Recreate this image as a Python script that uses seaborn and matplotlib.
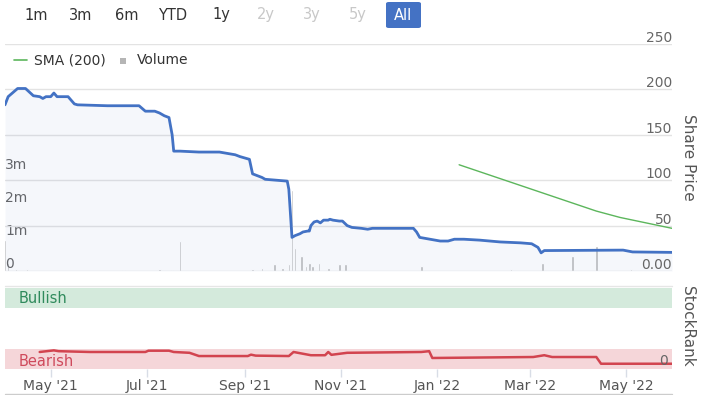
import matplotlib
matplotlib.use("Agg")
import matplotlib.pyplot as plt
import matplotlib.dates as mdates
import matplotlib.transforms as mtransforms
from matplotlib.patches import FancyBboxPatch
from matplotlib.lines import Line2D
import seaborn as sns
import pandas as pd

# ---------------- data ----------------
price_dates = ["2021-04-02", "2021-04-04", "2021-04-06", "2021-04-10", "2021-04-15", "2021-04-20",
               "2021-04-24", "2021-04-26", "2021-04-28", "2021-05-01", "2021-05-03", "2021-05-05",
               "2021-05-12", "2021-05-16", "2021-05-18", "2021-06-06", "2021-06-26", "2021-06-30",
               "2021-07-06", "2021-07-09", "2021-07-12", "2021-07-15", "2021-07-17", "2021-07-18",
               "2021-07-22", "2021-08-03", "2021-08-16", "2021-08-26", "2021-08-29", "2021-09-04",
               "2021-09-06", "2021-09-12", "2021-09-14", "2021-09-28", "2021-09-29", "2021-10-01",
               "2021-10-03", "2021-10-06", "2021-10-08", "2021-10-11", "2021-10-12", "2021-10-13",
               "2021-10-15", "2021-10-17", "2021-10-19", "2021-10-21", "2021-10-24", "2021-10-25",
               "2021-10-27", "2021-10-31", "2021-11-02", "2021-11-05", "2021-11-08", "2021-11-14",
               "2021-11-18", "2021-11-21", "2021-12-17", "2021-12-19", "2021-12-21", "2022-01-03",
               "2022-01-08", "2022-01-12", "2022-01-18", "2022-01-28", "2022-02-10", "2022-02-23",
               "2022-03-02", "2022-03-06", "2022-03-08", "2022-03-10", "2022-04-29", "2022-05-05",
               "2022-05-30"]
price_values = [183, 192, 195, 201, 201, 193,
                192, 190, 192, 192, 196, 192,
                192, 184, 183, 182, 182, 176,
                176, 174, 171, 169, 150, 132,
                132, 131, 131, 128, 126, 123,
                107, 103, 101, 99, 90, 37,
                39, 41, 43, 44, 44, 50,
                54, 55, 53, 56, 56, 57,
                56, 55, 55, 50, 48, 47,
                46, 47, 47, 43, 37, 33,
                33, 35, 35, 34, 32, 31,
                30, 26, 20, 22.5, 23, 21,
                20.5]

sma_dates = ["2022-01-15", "2022-04-12", "2022-04-27", "2022-05-30"]
sma_values = [117, 66, 59, 47]

volume_dates = ["2021-04-02", "2021-04-04", "2021-04-09", "2021-04-16", "2021-06-16", "2021-07-09",
                "2021-07-17", "2021-07-22", "2021-09-06", "2021-09-12", "2021-09-20", "2021-09-25",
                "2021-09-29", "2021-10-01", "2021-10-03", "2021-10-07", "2021-10-10", "2021-10-12",
                "2021-10-14", "2021-10-18", "2021-10-24", "2021-10-31", "2021-11-04", "2021-12-22",
                "2022-02-17", "2022-03-09", "2022-03-28", "2022-04-12", "2022-05-04"]
volume_values = [0.95, 0.25, 0.05, 0.05, 0.04, 0.05,
                 0.04, 0.9, 0.06, 0.1, 0.2, 0.08,
                 0.2, 2.45, 0.7, 0.45, 0.15, 0.25,
                 0.15, 0.25, 0.08, 0.2, 0.2, 0.15,
                 0.05, 0.25, 0.45, 0.75, 0.05]

rank_dates = ["2021-04-24", "2021-05-03", "2021-05-06", "2021-05-26", "2021-06-30", "2021-07-02",
              "2021-07-15", "2021-07-18", "2021-07-28", "2021-08-03", "2021-09-03", "2021-09-05",
              "2021-09-08", "2021-09-29", "2021-10-02", "2021-10-13", "2021-10-22", "2021-10-24",
              "2021-10-26", "2021-11-05", "2021-12-22", "2021-12-27", "2021-12-29", "2022-03-03",
              "2022-03-10", "2022-03-15", "2022-04-12", "2022-04-15", "2022-05-30"]
rank_values = [21, 23, 22, 21, 21, 22.6,
               22.6, 21, 20, 16, 16, 17.7,
               16.5, 16, 21, 17, 17, 21,
               17.5, 20, 21, 22, 13.6, 14.8,
               17, 14.8, 14.8, 6.5, 6.5]

x_tick_dates = ["2021-05-01", "2021-07-01", "2021-09-01", "2021-11-01", "2022-01-01", "2022-03-01", "2022-05-01"]
x_tick_labels = ["May '21", "Jul '21", "Sep '21", "Nov '21", "Jan '22", "Mar '22", "May '22"]
price_ticks = [0, 50, 100, 150, 200, 250]
price_tick_labels = ["0.00", "50", "100", "150", "200", "250"]
volume_ticks = [0, 1, 2, 3]
volume_tick_labels = ["0", "1m", "2m", "3m"]
range_buttons = ["1m", "3m", "6m", "YTD", "1y", "2y", "3y", "5y", "All"]
range_enabled = [True, True, True, True, True, False, False, False, True]
x_start, x_end = "2021-04-02", "2022-05-30"

# ---------------- frames ----------------
price_df = pd.DataFrame({"date": pd.to_datetime(price_dates), "price": price_values})
sma_df = pd.DataFrame({"date": pd.to_datetime(sma_dates), "sma": sma_values})
vol_df = pd.DataFrame({"date": pd.to_datetime(volume_dates), "volume": volume_values})
rank_df = pd.DataFrame({"date": pd.to_datetime(rank_dates), "rank": rank_values})

sns.set_theme(style="white")
plt.rcParams["font.family"] = ["DejaVu Sans"]

W, H = 705, 395
fig = plt.figure(figsize=(W / 100, H / 100), dpi=100)

def fx(px):
    return px / W

def fy(py):
    return 1 - py / H

L, R = 5, 672
# price / volume panel
ax_v = fig.add_axes([fx(L), fy(271), fx(R - L), (271 - 44) / H])
ax_p = ax_v.twinx()

xmin, xmax = pd.Timestamp(x_start), pd.Timestamp(x_end)

# volume bars
ax_v.bar(vol_df["date"], vol_df["volume"], width=1.6, color="#bdbdbd", zorder=1)
ax_v.set_ylim(0, (271 - 44) / 33.0)
ax_v.set_xlim(xmin, xmax)

# price fill & line
ax_p.fill_between(price_df["date"], price_df["price"], 0, color="#4a6fc0", alpha=0.055, lw=0, zorder=1)
sns.lineplot(data=price_df, x="date", y="price", ax=ax_p, color="#4372c4", linewidth=2.0, zorder=3)
sns.lineplot(data=sma_df, x="date", y="sma", ax=ax_p, color="#5cb65c", linewidth=1.0, zorder=3)
ax_p.set_ylim(0, 250)
ax_p.set_xlim(xmin, xmax)
ax_p.set_yticks(price_ticks)
ax_p.yaxis.grid(True, color="#e3e3e3", linewidth=1)
ax_p.set_axisbelow(True)

for a in (ax_v, ax_p):
    a.set_xlabel("")
    a.set_ylabel("")
    a.tick_params(left=False, right=False, bottom=False, labelleft=False, labelright=False, labelbottom=False)
    for s in a.spines.values():
        s.set_visible(False)
ax_p.patch.set_visible(False)

# price tick labels (inside right)
trans_p = mtransforms.offset_copy(mtransforms.blended_transform_factory(ax_p.transAxes, ax_p.transData),
                                  fig=fig, x=0, y=-1, units="dots")
for v, lab in zip(price_ticks, price_tick_labels):
    ax_p.text(1.0, v, lab, transform=trans_p, ha="right", va="bottom", fontsize=10, color="#666666")

# volume tick labels (inside left)
trans_v = mtransforms.offset_copy(mtransforms.blended_transform_factory(ax_v.transAxes, ax_v.transData),
                                  fig=fig, x=0, y=0, units="dots")
for v, lab in zip(volume_ticks, volume_tick_labels):
    ax_v.text(0.0, v, lab, transform=trans_v, ha="left", va="bottom", fontsize=10, color="#666666")

# ---------------- StockRank panel ----------------
ax_r = fig.add_axes([fx(L), fy(369), fx(R - L), (369 - 288) / H])
ax_r.axhspan(75, 100, color="#d4eadc", lw=0, zorder=0)
ax_r.axhspan(0, 25, color="#f5d6d9", lw=0, zorder=0)
sns.lineplot(data=rank_df, x="date", y="rank", ax=ax_r, color="#d2444f", linewidth=1.8, zorder=3)
ax_r.set_ylim(0, 100)
ax_r.set_xlim(xmin, xmax)
ax_r.set_xlabel("")
ax_r.set_ylabel("")
ax_r.set_yticks([])
for k, s in ax_r.spines.items():
    s.set_visible(False)
ax_r.set_xticks(pd.to_datetime(x_tick_dates))
ax_r.set_xticklabels(x_tick_labels)
ax_r.tick_params(axis="x", bottom=True, length=6, width=1, color="#d8dde6", direction="out",
                 labelsize=10, labelcolor="#555555", pad=1.5)
ax_r.text(0.02, 87.5, "Bullish", transform=mtransforms.blended_transform_factory(ax_r.transAxes, ax_r.transData),
          ha="left", va="center", fontsize=10.5, color="#2f8a5c")
ax_r.text(0.02, 9, "Bearish", transform=mtransforms.blended_transform_factory(ax_r.transAxes, ax_r.transData),
          ha="left", va="center", fontsize=10.5, color="#cf4a5c")
trans_r = mtransforms.offset_copy(mtransforms.blended_transform_factory(ax_r.transAxes, ax_r.transData),
                                  fig=fig, x=-4, y=1, units="dots")
ax_r.text(1.0, 0, "0", transform=trans_r, ha="right", va="bottom", fontsize=10, color="#666666")

# frame lines
fig.add_artist(Line2D([fx(L), fx(R)], [fy(286), fy(286)], color="#e6e6e6", lw=1))
fig.add_artist(Line2D([fx(L), fx(R)], [fy(393.5), fy(393.5)], color="#cccccc", lw=1))

# axis titles
fig.text(fx(688), fy(157), "Share Price", rotation=270, ha="center", va="center", fontsize=11, color="#555555")
fig.text(fx(688), fy(326), "StockRank", rotation=270, ha="center", va="center", fontsize=11, color="#555555")

# legend
fig.add_artist(Line2D([fx(14), fx(27)], [fy(60), fy(60)], color="#5cb65c", lw=1.2))
fig.text(fx(34), fy(60), "SMA (200)", ha="left", va="center", fontsize=10, color="#333333")
fig.add_artist(FancyBboxPatch((fx(120), fy(64)), fx(6), 6 / H, boxstyle="square,pad=0",
                              transform=fig.transFigure, facecolor="#b5b5b5", edgecolor="none"))
fig.text(fx(137), fy(60), "Volume", ha="left", va="center", fontsize=10, color="#333333")

# range selector buttons
btn_x = [36, 81, 127, 173, 221, 266, 312, 358, 403]
for bx, lab, en in zip(btn_x, range_buttons, range_enabled):
    if lab == "All":
        fig.add_artist(FancyBboxPatch((fx(386), fy(28)), fx(35), 26 / H,
                                      boxstyle="round,pad=0,rounding_size=0.004",
                                      transform=fig.transFigure, facecolor="#4472c4", edgecolor="none"))
        fig.text(fx(bx), fy(15), lab, ha="center", va="center", fontsize=10.5, color="white")
    else:
        fig.text(fx(bx), fy(15), lab, ha="center", va="center", fontsize=10.5,
                 color="#333333" if en else "#c8c8c8")

fig.savefig("out.png", dpi=100)
